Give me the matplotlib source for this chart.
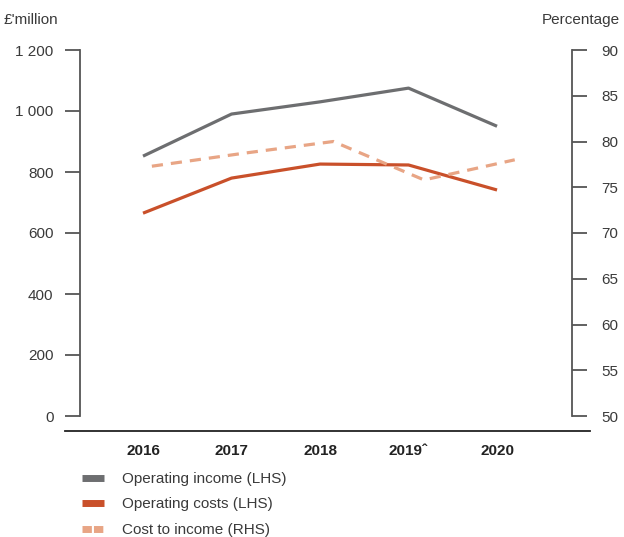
import matplotlib
matplotlib.use("Agg")
import matplotlib.pyplot as plt
from matplotlib.lines import Line2D
import numpy as np

plt.rcParams['font.family'] = ['Liberation Sans', 'DejaVu Sans']

years = ['2016', '2017', '2018', '2019\u02c6', '2020']
operating_income = [852, 990, 1030, 1075, 950]
operating_costs = [665, 780, 826, 823, 741]
cost_to_income = [77.3, 78.7, 80.0, 75.8, 78.0]

grey = '#6d6e70'
orange = '#c9502a'
light = '#e8a585'
axis_col = '#555555'
text_col = '#3a3a3a'

fig = plt.figure(figsize=(6.24, 5.37), dpi=100)
ax = fig.add_axes([80 / 624, 1 - 416 / 537, (572 - 80) / 624, (416 - 50) / 537])
ax2 = ax.twinx()

x = np.arange(len(years))
ax.plot(x, operating_income, color=grey, lw=2.3, solid_capstyle='butt')
ax.plot(x, operating_costs, color=orange, lw=2.3, solid_capstyle='butt')
# the dashed series sits slightly to the right in the original
ax2.plot(x * 1.025 + 0.1, cost_to_income, color=light, lw=2.3, dashes=(3.5, 2.5))

ax.set_xlim(-0.712, 4.847)
ax.set_ylim(0, 1200)
ax2.set_ylim(50, 90)

ax.set_yticks(np.arange(0, 1201, 200))
ax.set_yticklabels(['0', '200', '400', '600', '800', '1 000', '1 200'])
ax2.set_yticks(np.arange(50, 91, 5))

for a in (ax, ax2):
    for s in ['top', 'bottom']:
        a.spines[s].set_visible(False)
ax.spines['right'].set_visible(False)
ax2.spines['left'].set_visible(False)
ax.spines['left'].set_color(axis_col)
ax.spines['left'].set_linewidth(1.3)
ax2.spines['right'].set_color(axis_col)
ax2.spines['right'].set_linewidth(1.3)

ax.tick_params(axis='y', direction='out', length=11, width=1.3, color=axis_col,
               labelsize=11, labelcolor=text_col, pad=8)
ax2.tick_params(axis='y', direction='out', length=11, width=1.3, color=axis_col,
                labelsize=11, labelcolor=text_col, pad=10)

ax.set_xticks(x)
ax.set_xticklabels(years, fontweight='bold')
ax.tick_params(axis='x', length=0, labelsize=11, labelcolor='#222222', pad=20)

# baseline under the chart
fig.add_artist(Line2D([65 / 624, 590 / 624], [1 - 431 / 537] * 2, color='#222222', lw=1.3))

fig.text(4 / 624, 1 - 20 / 537, "£'million", fontsize=11, color=text_col, va='center', ha='left')
fig.text(620 / 624, 1 - 20 / 537, 'Percentage', fontsize=11, color=text_col, va='center', ha='right')

handles = [
    Line2D([], [], color=grey, lw=5, solid_capstyle='butt'),
    Line2D([], [], color=orange, lw=5, solid_capstyle='butt'),
    Line2D([], [], color=light, lw=5, dashes=(1.35, 0.3), dash_capstyle='butt'),
]
labels = ['Operating income (LHS)', 'Operating costs (LHS)', 'Cost to income (RHS)']
fig.legend(handles, labels, loc='upper left', bbox_to_anchor=(82 / 624, 1 - 472 / 537),
           frameon=False, fontsize=11, handlelength=1.45, handletextpad=1.2,
           labelspacing=0.75, borderpad=0, borderaxespad=0, labelcolor=text_col)

plt.savefig('out.png', dpi=100)
